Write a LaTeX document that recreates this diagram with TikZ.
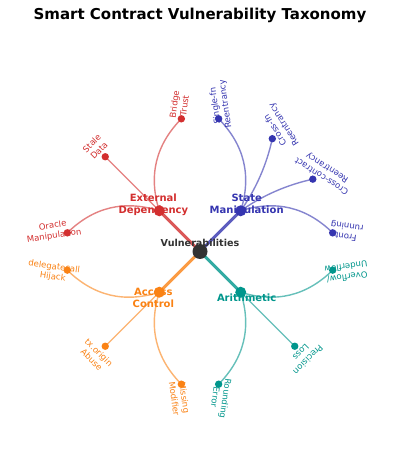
\documentclass[tikz,border=0pt]{standalone}
\usepackage{fontspec}
\setmainfont{DejaVu Sans}
\usetikzlibrary{calc}
\definecolor{cred}{RGB}{211,47,47}
\definecolor{cblue}{RGB}{53,53,176}
\definecolor{corange}{RGB}{250,130,20}
\definecolor{cteal}{RGB}{0,150,140}
\definecolor{cdark}{RGB}{51,51,51}
\tikzset{
  trunk/.style={line width=3pt, draw opacity=0.8},
  twig/.style={line width=1.4pt, draw opacity=0.6},
  leaflabel/.style={align=center, inner sep=0pt, font=\fontsize{8.5}{10.2}\selectfont},
  catlabel/.style={align=center, inner sep=0pt, font=\fontsize{10}{12}\selectfont\bfseries},
  rootlabel/.style={inner sep=0pt, text=cdark, font=\fontsize{9.6}{11.5}\selectfont\bfseries},
  titlestyle/.style={inner sep=0pt, font=\fontsize{15}{18}\selectfont\bfseries},
}
\begin{document}
\begin{tikzpicture}[x=1pt,y=1pt]
\fill[white] (-200,-200.5) rectangle (200,251.5);
\useasboundingbox (-200,-200.5) rectangle (200,251.5);
\node[titlestyle, anchor=base] (title) at (0,232) {Smart Contract Vulnerability Taxonomy};
% coordinates
\coordinate (root) at (0,0);
\coordinate (ext) at (135:57.6);
\coordinate (sm) at (45:57.6);
\coordinate (ac) at (225:57.6);
\coordinate (ar) at (315:57.6);
\foreach \cat/\lf/\ph/\al/\col in {ext/bt/98/135/cred, ext/sd/135/135/cred, ext/om/172/135/cred, sm/sr/82/45/cblue, sm/cf/57.333/45/cblue, sm/cc/32.667/45/cblue, sm/fr/8/45/cblue, ac/dh/188/225/corange, ac/ta/225/225/corange, ac/mm/262/225/corange, ar/re/278/315/cteal, ar/pl/315/315/cteal, ar/ou/352/315/cteal}{
  \coordinate (\lf) at (\ph:134);
}
% trunk edges
\draw[trunk, cred] (root) -- (ext);
\draw[trunk, cblue] (root) -- (sm);
\draw[trunk, corange] (root) -- (ac);
\draw[trunk, cteal] (root) -- (ar);
% twig edges
\foreach \cat/\lf/\ph/\al/\col in {ext/bt/98/135/cred, ext/sd/135/135/cred, ext/om/172/135/cred, sm/sr/82/45/cblue, sm/cf/57.333/45/cblue, sm/cc/32.667/45/cblue, sm/fr/8/45/cblue, ac/dh/188/225/corange, ac/ta/225/225/corange, ac/mm/262/225/corange, ar/re/278/315/cteal, ar/pl/315/315/cteal, ar/ou/352/315/cteal}{
  \pgfmathsetmacro\bend{0.6*(\al-\ph)/37}
  \coordinate (\lf c) at ($(\cat)!0.5!(\lf)!\bend!90:(\lf)$);
  \draw[twig, \col] (\cat) .. controls ($(\cat)!2/3!(\lf c)$) and ($(\lf)!2/3!(\lf c)$) .. (\lf);
}
% labels
\node[rootlabel, anchor=base] (root-t) at (0,4.5) {Vulnerabilities};
\node[catlabel, text=cred] (ext-t) at (135:66) {External\\Dependency};
\node[catlabel, text=cblue] (sm-t) at (45:66) {State\\Manipulation};
\node[catlabel, text=corange] (ac-t) at (225:66) {Access\\Control};
\node[catlabel, text=cteal] (ar-t) at (315:66) {Arithmetic};
\node[leaflabel, text=cred, rotate=180-98] (bt-t) at (98:148) {Bridge\\Trust};
\node[leaflabel, text=cred, rotate=180-135] (sd-t) at (135:148) {Stale\\Data};
\node[leaflabel, text=cred, rotate=180-172] (om-t) at (172:148) {Oracle\\Manipulation};
\node[leaflabel, text=cblue, rotate=180-82] (sr-t) at (82:148) {Single-fn\\Reentrancy};
\node[leaflabel, text=cblue, rotate=180-57.333] (cf-t) at (57.333:148) {Cross-fn\\Reentrancy};
\node[leaflabel, text=cblue, rotate=180-32.667] (cc-t) at (32.667:148) {Cross-contract\\Reentrancy};
\node[leaflabel, text=cblue, rotate=180-8] (fr-t) at (8:148) {Front\\running};
\node[leaflabel, text=corange, rotate=180-188] (dh-t) at (188:148) {delegatecall\\Hijack};
\node[leaflabel, text=corange, rotate=180-225] (ta-t) at (225:148) {tx.origin\\Abuse};
\node[leaflabel, text=corange, rotate=180-262] (mm-t) at (262:148) {Missing\\Modifier};
\node[leaflabel, text=cteal, rotate=180-278] (re-t) at (278:148) {Rounding\\Error};
\node[leaflabel, text=cteal, rotate=180-315] (pl-t) at (315:148) {Precision\\Loss};
\node[leaflabel, text=cteal, rotate=180-352] (ou-t) at (352:148) {Overflow/\\Underflow};
% dots
\fill[cdark] (root) circle (7.5);
\fill[cred] (ext) circle (5.5);
\fill[cblue] (sm) circle (5.5);
\fill[corange] (ac) circle (5.5);
\fill[cteal] (ar) circle (5.5);
\foreach \lf/\col in {bt/cred, sd/cred, om/cred, sr/cblue, cf/cblue, cc/cblue, fr/cblue, dh/corange, ta/corange, mm/corange, re/cteal, pl/cteal, ou/cteal}{
  \fill[\col] (\lf) circle (3.7);
}
\end{tikzpicture}
\end{document}
